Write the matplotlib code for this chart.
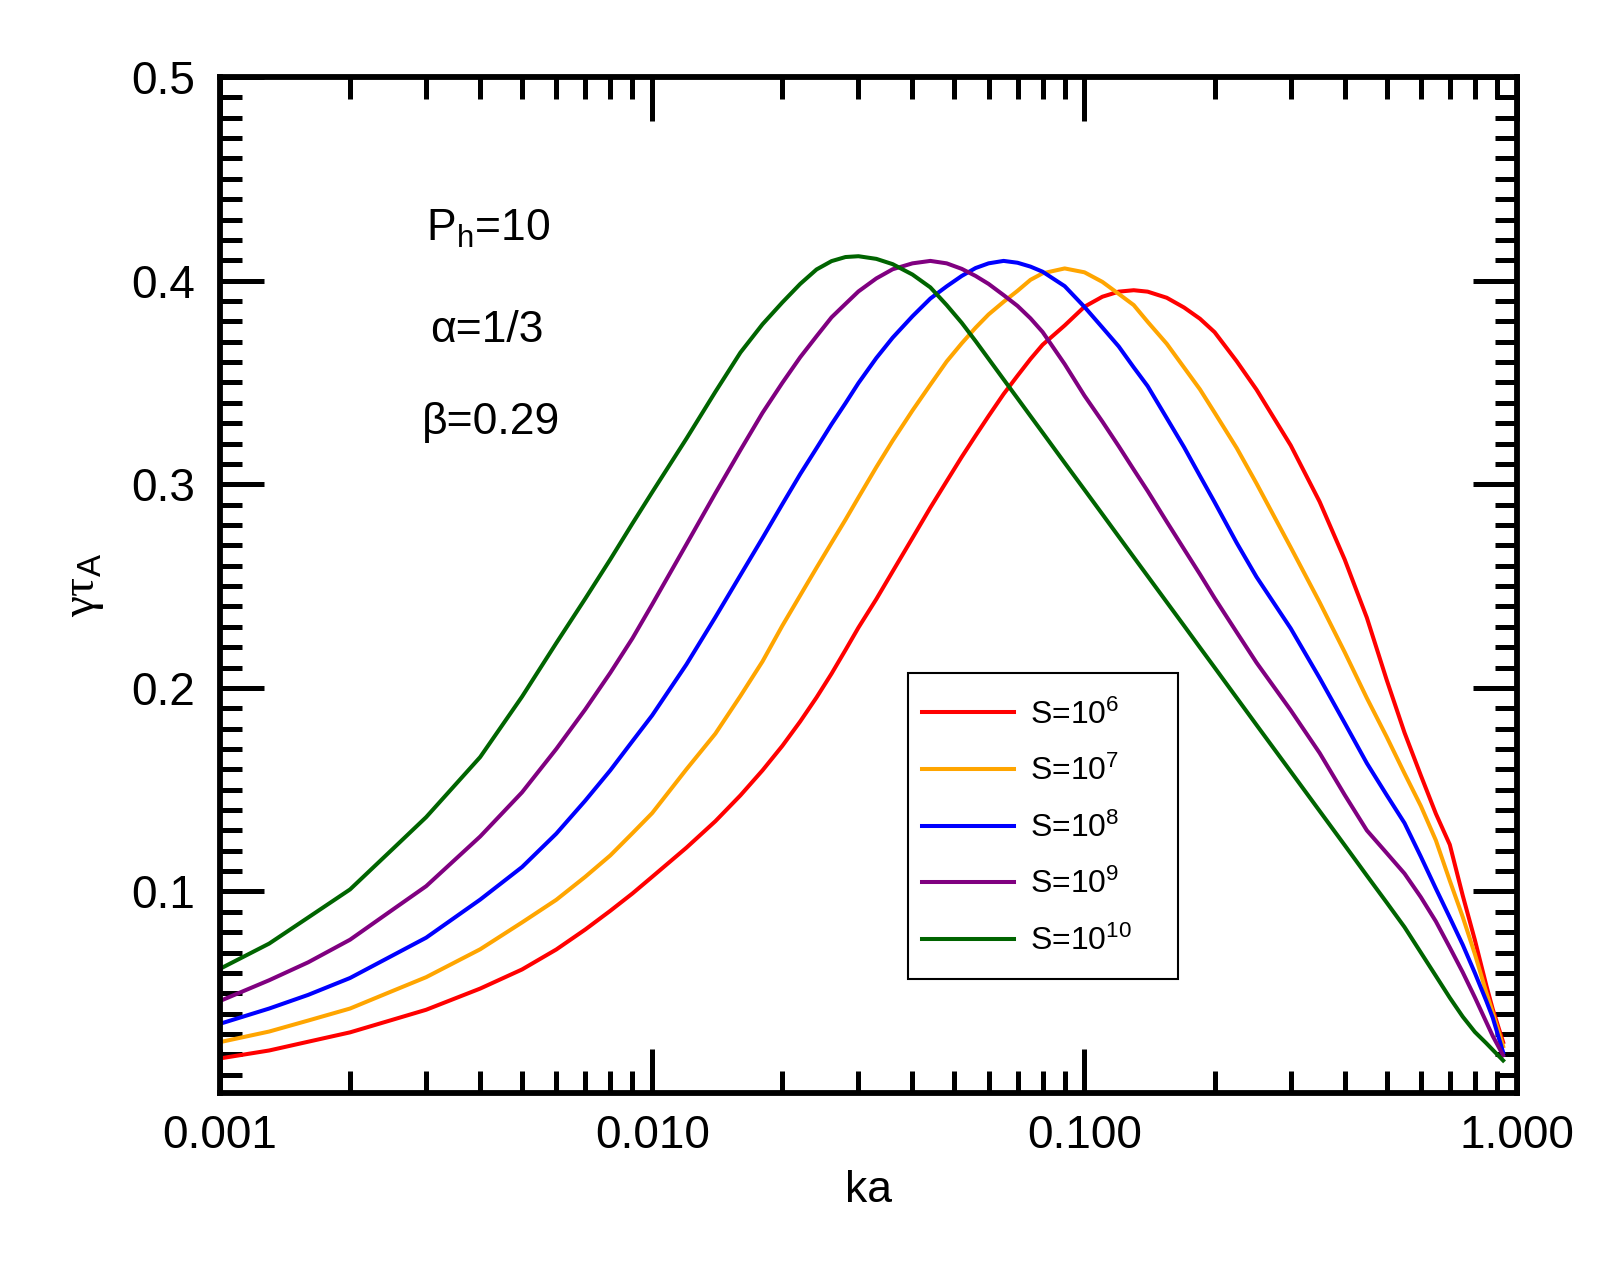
import numpy as np
import matplotlib
matplotlib.use('Agg')
import matplotlib.pyplot as plt
from matplotlib.patches import Rectangle
from matplotlib.ticker import MultipleLocator, LogLocator, NullFormatter

# wavenumber grid (ka) and growth rates gamma*tau_A
ka = [0.001, 0.0013, 0.0016, 0.002, 0.0025, 0.003, 0.004, 0.005, 0.006, 0.007,
      0.008, 0.009, 0.01, 0.012, 0.014, 0.016, 0.018, 0.02, 0.022, 0.024,
      0.026, 0.028, 0.03, 0.033, 0.036, 0.04, 0.044, 0.048, 0.052, 0.056,
      0.06, 0.065, 0.07, 0.075, 0.08, 0.09, 0.1, 0.11, 0.12, 0.13,
      0.14, 0.155, 0.17, 0.185, 0.2, 0.225, 0.25, 0.3, 0.35, 0.4,
      0.45, 0.5, 0.55, 0.6, 0.65, 0.7, 0.75, 0.8, 0.85, 0.88, 0.93]

g_s6 = [0.018, 0.0219, 0.0262, 0.0308, 0.0369, 0.0419, 0.0523, 0.0617, 0.0715, 0.0813,
        0.0905, 0.0990, 0.1072, 0.1215, 0.1345, 0.1472, 0.1595, 0.1715, 0.1835, 0.1953,
        0.207, 0.2186, 0.2296, 0.2436, 0.2572, 0.2736, 0.2885, 0.3015, 0.3134, 0.3239,
        0.3335, 0.3443, 0.3533, 0.3615, 0.3685, 0.378, 0.3872, 0.3921, 0.3946, 0.3953,
        0.3946, 0.3916, 0.3868, 0.3813, 0.3747, 0.3604, 0.3465, 0.3191, 0.2914, 0.263,
        0.2345, 0.204, 0.178, 0.157, 0.1382, 0.123, 0.098, 0.0762, 0.054, 0.0422, 0.026]

g_s7 = [0.026, 0.0312, 0.0366, 0.0425, 0.0510, 0.0579, 0.0716, 0.0848, 0.0959, 0.1072,
        0.1177, 0.1286, 0.1385, 0.160, 0.1775, 0.196, 0.213, 0.2305, 0.2454, 0.259,
        0.2713, 0.2826, 0.2935, 0.3084, 0.3214, 0.3362, 0.3489, 0.3603, 0.3692, 0.3769,
        0.3834, 0.3896, 0.395, 0.4004, 0.4036, 0.406, 0.4041, 0.3994, 0.3935, 0.388,
        0.3798, 0.369, 0.3573, 0.3466, 0.3352, 0.3178, 0.3004, 0.269, 0.242, 0.2175,
        0.195, 0.176, 0.158, 0.142, 0.1251, 0.1053, 0.0875, 0.0693, 0.0505, 0.0405, 0.024]

g_s8 = [0.035, 0.0425, 0.0492, 0.0575, 0.0684, 0.0773, 0.096, 0.112, 0.1284, 0.1446,
        0.1595, 0.1738, 0.1865, 0.2115, 0.2347, 0.2554, 0.2736, 0.2902, 0.305, 0.3177,
        0.3295, 0.3398, 0.3497, 0.362, 0.372, 0.3825, 0.3912, 0.3972, 0.4023, 0.4062,
        0.4085, 0.4097, 0.4088, 0.4069, 0.4044, 0.3973, 0.3871, 0.377, 0.3677, 0.3574,
        0.3482, 0.3325, 0.3182, 0.3041, 0.2912, 0.2712, 0.2545, 0.2292, 0.2048, 0.1827,
        0.163, 0.1474, 0.1336, 0.1171, 0.1014, 0.0872, 0.0738, 0.06, 0.0463, 0.038, 0.021]

g_s9 = [0.0462, 0.0564, 0.0652, 0.0763, 0.0908, 0.1026, 0.127, 0.1487, 0.170, 0.1894,
        0.2074, 0.2243, 0.241, 0.2705, 0.2956, 0.3168, 0.3351, 0.3498, 0.3624, 0.3727,
        0.382, 0.3886, 0.3947, 0.4011, 0.4056, 0.4085, 0.4097, 0.4085, 0.4058, 0.4023,
        0.3984, 0.3929, 0.3876, 0.3815, 0.3748, 0.359, 0.3435, 0.3308, 0.3187, 0.3072,
        0.2967, 0.2816, 0.2681, 0.2558, 0.2441, 0.2273, 0.2124, 0.189, 0.168, 0.1474,
        0.130, 0.1189, 0.1088, 0.0972, 0.0853, 0.0725, 0.0603, 0.048, 0.0359, 0.029, 0.0195]

g_s10 = [0.062, 0.0744, 0.0872, 0.101, 0.1205, 0.1365, 0.166, 0.1957, 0.222, 0.2438,
         0.2631, 0.2807, 0.2961, 0.3224, 0.3454, 0.3647, 0.3786, 0.3893, 0.3984, 0.4055,
         0.4096, 0.4116, 0.412, 0.4107, 0.4081, 0.403, 0.3967, 0.388, 0.3793, 0.3703,
         0.3616, 0.3515, 0.3422, 0.3335, 0.3254, 0.3105, 0.2973, 0.2853, 0.2743, 0.2642,
         0.2549, 0.2421, 0.2305, 0.2198, 0.21, 0.1951, 0.1818, 0.1589, 0.1395, 0.1227,
         0.1078, 0.0946, 0.0825, 0.0700, 0.0585, 0.0478, 0.0385, 0.0310, 0.0255, 0.0222, 0.017]

labels = ['S=10$^{6}$', 'S=10$^{7}$', 'S=10$^{8}$', 'S=10$^{9}$', 'S=10$^{10}$']
colors = ['#ff0000', '#ffa500', '#0000ff', '#800080', '#006400']

xticks = [0.001, 0.01, 0.1, 1.0]
xtick_labels = ['0.001', '0.010', '0.100', '1.000']
yticks = [0.1, 0.2, 0.3, 0.4, 0.5]
ytick_labels = ['0.1', '0.2', '0.3', '0.4', '0.5']

plt.rcParams['font.family'] = ['Liberation Sans', 'DejaVu Sans']
plt.rcParams['mathtext.fontset'] = 'custom'
plt.rcParams['mathtext.rm'] = 'Liberation Sans'
plt.rcParams['mathtext.it'] = 'Liberation Sans:italic'

fig = plt.figure(figsize=(16.17, 12.61), dpi=100)
ax = fig.add_axes([0.136, 0.1332, 0.802, 0.8057])

for y, lab, c in zip([g_s6, g_s7, g_s8, g_s9, g_s10], labels, colors):
    ax.plot(ka, y, color=c, lw=2.9, label=lab)

ax.set_xscale('log')
ax.set_xlim(0.001, 1.0)
ax.set_ylim(0.001, 0.5)
ax.set_xticks(xticks, labels=xtick_labels)
ax.xaxis.set_minor_locator(LogLocator(base=10, subs=np.arange(2, 10)))
ax.xaxis.set_minor_formatter(NullFormatter())
ax.set_yticks(yticks, labels=ytick_labels)
ax.yaxis.set_minor_locator(MultipleLocator(0.01))

for sp in ax.spines.values():
    sp.set_linewidth(4.2)
ax.tick_params(which='both', direction='in', top=True, right=True,
               width=3.6, labelsize=33)
ax.tick_params(which='major', length=32)
ax.tick_params(which='minor', length=16)
ax.tick_params(axis='x', pad=15)
ax.tick_params(axis='y', pad=18)

ax.set_xlabel('ka', fontsize=32, labelpad=9)
ax.set_ylabel('γτ$_{\\mathrm{A}}$', fontsize=34, family=['Liberation Serif', 'DejaVu Serif'],
              labelpad=18)

ax.text(0.159, 0.8386, 'P$_{\\mathrm{h}}$=10', transform=ax.transAxes, fontsize=32, va='baseline')
ax.text(0.162, 0.739, 'α=1/3', transform=ax.transAxes, fontsize=32, va='baseline')
ax.text(0.156, 0.6486, 'β=0.29', transform=ax.transAxes, fontsize=32, va='baseline')

# legend box drawn separately so its size matches the original
ax.add_patch(Rectangle((0.5305, 0.1122), 0.2082, 0.3012, transform=ax.transAxes,
                       fill=False, ec='black', lw=1.5, zorder=5))
leg = ax.legend(loc='upper left', bbox_to_anchor=(0.5412, 0.3875),
                borderaxespad=0, borderpad=0, frameon=False, fontsize=23,
                handlelength=2.9, handletextpad=0.48, labelspacing=0.79)

fig.savefig('out.png', dpi=100)
